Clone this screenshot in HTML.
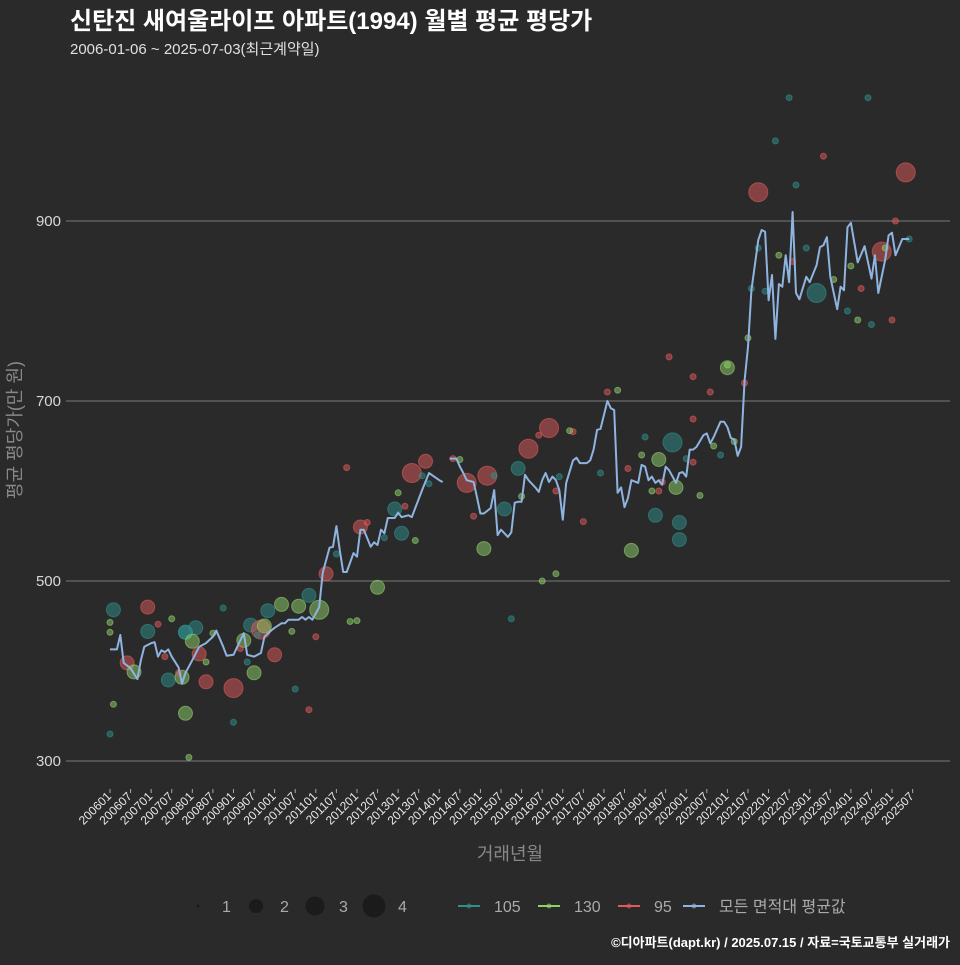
<!DOCTYPE html>
<html><head><meta charset="utf-8">
<style>
body{margin:0;background:#2b2a2b;overflow:hidden;}
svg text{font-family:"Liberation Sans","Noto Sans CJK KR",sans-serif;}
</style></head>
<body>
<svg id="chart" width="960" height="960" xmlns="http://www.w3.org/2000/svg">
<rect width="960" height="960" fill="#2b2a2b"/>
<text x="70" y="29" fill="#ffffff" font-size="24" font-weight="bold">신탄진 새여울라이프 아파트(1994) 월별 평균 평당가</text>
<text x="70" y="54" fill="#e0e0e0" font-size="15">2006-01-06 ~ 2025-07-03(최근계약일)</text>
<g id="grid"></g>
<g id="xaxis"></g>
<g id="dots"></g>
<g id="line"></g>
<text x="510" y="860" fill="#888" font-size="18" text-anchor="middle">거래년월</text>
<text transform="translate(21,430) rotate(-90)" fill="#888" font-size="18" text-anchor="middle">평균 평당가(만 원)</text>
<g id="legend"></g>
<text x="950" y="947" fill="#ffffff" font-size="13" font-weight="bold" text-anchor="end">©디아파트(dapt.kr) / 2025.07.15 / 자료=국토교통부 실거래가</text>
</svg>
<script>
const yTicks=[300,500,700,900];
const xTickLabels=[];
for(let y=2006;y<=2025;y++){xTickLabels.push(y+"01");xTickLabels.push(y+"07");}
const avgMonths=[0,2,3,4,6,8,9,10,12,13,14,15,16,17,18,20,21,22,24,26,28,30,31,33,34,36,37,39,40,42,44,45,47,48,50,51,52,55,56,57,58,59,61,62,64,65,66,67,68,69,71,72,73,74,76,77,78,79,80,81,83,84,85,87,88,91,93,96,97,98,99,101,102,103,104,106,107,108,109,111,112,113,114,116,117,118,119,120,121,122,124,125,126,127,128,129,130,131,132,133,135,136,137,139,140,141,142,143,145,146,147,148,149,150,151,152,154,155,156,157,158,159,160,161,162,163,165,166,167,168,169,170,171,173,174,175,176,178,179,180,181,182,183,184,185,186,187,189,190,191,192,193,194,195,196,197,198,199,200,201,203,204,206,207,208,209,210,212,213,214,215,216,218,220,222,223,224,226,227,228,229,231,233];
const avgValues=[424,424,440,409,403,391,412,427,431,432,416,423,421,424,416,404,386,398,412,427,431,438,445,427,417,418,426,442,418,416,420,438,445,448,453,453,457,457,460,457,460,457,471,509,537,538,561,534,510,510,531,527,557,557,538,543,540,557,553,570,570,576,571,573,571,601,620,612,610,null,636,636,627,620,612,610,593,575,575,581,601,551,557,549,554,587,588,588,618,612,604,599,612,620,610,616,612,601,568,609,634,637,631,631,634,646,668,669,700,692,690,598,604,582,592,612,609,629,627,612,616,609,612,607,627,623,609,620,621,616,646,646,649,662,664,653,660,677,677,671,659,657,639,649,723,760,823,879,890,888,812,840,769,830,827,862,832,910,820,813,838,832,851,871,873,882,838,802,827,823,893,898,854,872,836,862,820,857,884,887,862,880,880];
const dotGroups=["105","130","95","105","130","130","95","95","130","105","105","105","130","95","130","130","105","105","130","95","95","95","105","130","130","95","130","95","105","130","130","130","105","95","130","95","105","105","95","95","95","95","95","105","130","105","95","95","130","105","105","130","105","105","130","130","95","95","95","95","95","95","95","105","95","95","105","105","95","105","105","130","130","130","95","130","130","105","95","130","130","105","105","105","130","95","105","130","95","130","105","130","95","105","105",
"130","95","105","130","95","105","130","95","105","130","95","105","130","95","105","130","95","105","130","95","105","130","95","105","130","95","105","130","95","105","130","95","105","130","95","105","130","95","105","130","95","105","130","95","105"];
const dotMonths=[1,0,5,11,1,7,11,16,0,0,17,22,21,20,22,23,22,25,24,26,28,36,41,42,39,44,45,48,46,50,55,61,58,63,78,73,83,85,88,92,69,104,110,119,109,115,122,128,152,159,164,160,166,166,165,180,163,189,232,225,208,145,170,206,135,130,91,54,58,40,36,28,72,89,100,126,130,117,170,186,176,198,221,194,216,228,200,218,170,180,189,155,160,187,215,
30,14,33,18,38,43,53,60,66,70,75,80,84,86,93,102,106,112,120,125,131,134,138,143,148,151,156,158,161,168,172,175,178,182,185,191,195,199,203,211,219,222,226,229,233];
const dotValues=[468,454,409,444,363,399,471,416,443,330,390,443,393,398,353,304,443,448,433,419,388,381,451,398,434,446,450,418,467,474,472,468,484,508,493,560,580,553,620,633,626,609,617,625,536,580,647,670,534,573,654,635,565,546,604,737,749,932,954,866,972,710,680,820,666,600,617,380,357,410,343,410,456,545,636,500,508,458,632,770,650,1037,1037,989,850,790,940,790,727,740,870,640,600,825,800,
442,452,470,458,425,440,444,438,530,455,565,548,598,583,608,635,572,617,594,662,616,667,566,620,712,625,660,600,610,636,595,710,640,655,720,822,862,855,870,835,825,785,870,900,880];
const dotCounts=[2,1,2,2,1,2,2,1,1,1,2,2,2,1,2,1,2,2,2,2,2,3,2,2,2,3,2,2,2,2,2,3,2,2,2,2,2,2,3,2,1,3,3,2,2,2,3,3,2,2,3,2,2,2,2,2,1,3,3,3,1,1,1,3,1,1,1,1,1,1,1,1,1,1,1,1,1,1,1,1,1,1,1,1,1,1,1,1,1,1,1,1,1,1,1,
1,1,1,1,1,1,1,1,1,1,1,1,1,1,1,1,1,1,1,1,1,1,1,1,1,1,1,1,1,1,1,1,1,1,1,1,1,1,1,1,1,1,1,1,1];
const colors={"105":"#2f8f8c","130":"#8fd16a","95":"#e05a5a"};
const radius=[0,3,7,9.5,12];
const xS=m=>110+m*3.43;
const yS=v=>761-(v-300)*0.9;
const NS="http://www.w3.org/2000/svg";
function mk(tag,attrs,parent){const e=document.createElementNS(NS,tag);for(const k in attrs)e.setAttribute(k,attrs[k]);parent.appendChild(e);return e;}
const grid=document.getElementById('grid');
yTicks.forEach(t=>{
  const l=mk('line',{x1:66,x2:950,y1:yS(t),y2:yS(t),stroke:'#7a7a7a','stroke-width':1},grid);
  
  
  const tx=mk('text',{x:61,y:yS(t)+5,fill:'#d8d8d8','font-size':15,'text-anchor':'end'},grid);
  tx.textContent=t;
  
  
});
const xa=document.getElementById('xaxis');
xTickLabels.forEach((lab,i)=>{
  const x=xS(i*6);
  const tk=mk('line',{x1:x,x2:x,y1:789,y2:793,stroke:'#aaa','stroke-width':1},xa);
  
  
  const t=mk('text',{transform:`translate(${x+2},${797}) rotate(-45)`,fill:'#e8e8e8','font-size':12,'text-anchor':'end'},xa);
  t.textContent=lab;
  
  
});
const dg=document.getElementById('dots');
dotMonths.forEach((m,i)=>{
  const c=colors[dotGroups[i]];
  const d=mk('circle',{cx:xS(m),cy:yS(dotValues[i]),r:radius[dotCounts[i]],fill:c,'fill-opacity':0.5,stroke:c,'stroke-opacity':0.6,'stroke-width':1},dg);
  
  
});
const lg=document.getElementById('line');
let segs=[],cur=[];
avgMonths.forEach((m,i)=>{const v=avgValues[i];if(v===null){if(cur.length)segs.push(cur);cur=[];}else cur.push(xS(m).toFixed(1)+','+yS(v).toFixed(1));});
if(cur.length)segs.push(cur);
segs.forEach(s=>{
  const p=mk('polyline',{points:s.join(' '),fill:'none',stroke:'#8fb4e0','stroke-width':2,'stroke-linejoin':'round'},lg);
  
  
});
const L=document.getElementById('legend');
const sizeLeg=[[198,1.5,"1"],[256,7,"2"],[315,9.5,"3"],[374,11.5,"4"]];
sizeLeg.forEach(s=>{
  const c=mk('circle',{cx:s[0],cy:906,r:s[1],fill:'#1b1b1b'},L);
  
  
  const t=mk('text',{x:s[0]+24,y:912,fill:'#aaa','font-size':16},L);
  t.textContent=s[2];
  
  
});
const serLeg=[[458,"#2f8f8c","105"],[538,"#8fd16a","130"],[618,"#e05a5a","95"],[683,"#8fb4e0","모든 면적대 평균값"]];
serLeg.forEach(s=>{
  const g=mk('g',{},L);
  
  
  mk('line',{x1:s[0],x2:s[0]+22,y1:906,y2:906,stroke:s[1],'stroke-width':2},g);
  mk('circle',{cx:s[0]+11,cy:906,r:2.5,fill:s[1],'fill-opacity':0.6},g);
  const t=mk('text',{x:s[0]+36,y:912,fill:'#aaa','font-size':16},g);
  t.textContent=s[2];
});
</script>
</body></html>
